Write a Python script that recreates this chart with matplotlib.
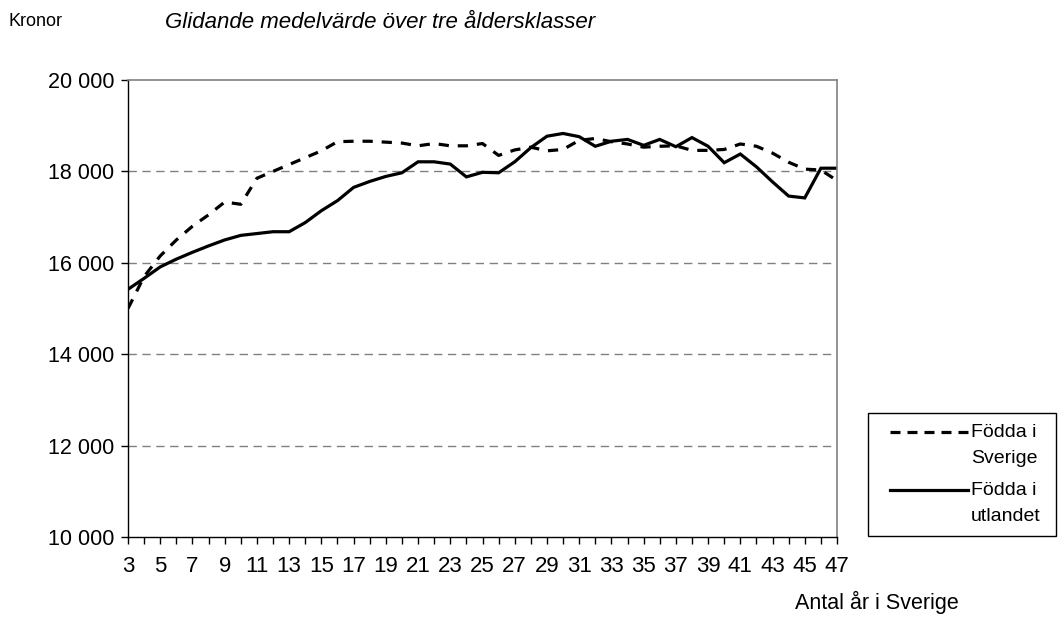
import matplotlib
matplotlib.use("Agg")
import matplotlib.pyplot as plt
from matplotlib.lines import Line2D
from matplotlib.patches import Rectangle
from matplotlib.ticker import FuncFormatter, MultipleLocator

plt.rcParams['font.family'] = ['Liberation Sans', 'DejaVu Sans']

years = list(range(3, 48))
fodda_sverige = [15000, 15700, 16150, 16500, 16800, 17050, 17330, 17280, 17850, 18000,
                 18150, 18300, 18450, 18650, 18660, 18660, 18640, 18620, 18560, 18610,
                 18560, 18560, 18610, 18350, 18470, 18530, 18450, 18480, 18680, 18720,
                 18650, 18600, 18530, 18550, 18560, 18460, 18460, 18480, 18600, 18550,
                 18400, 18200, 18050, 18030, 17800]
fodda_utlandet = [15420, 15660, 15910, 16080, 16230, 16370, 16500, 16600, 16640, 16680,
                  16680, 16880, 17140, 17360, 17650, 17780, 17890, 17970, 18210, 18210,
                  18160, 17880, 17980, 17970, 18210, 18520, 18770, 18830, 18760, 18550,
                  18660, 18700, 18570, 18700, 18540, 18740, 18550, 18190, 18380, 18100,
                  17770, 17460, 17420, 18070, 18070]

ylabel_text = "Kronor"
title_text = "Glidande medelvärde över tre åldersklasser"
xlabel_text = "Antal år i Sverige"
legend_labels = ["Födda i\nSverige", "Födda i\nutlandet"]

W, H = 1060, 644
fig = plt.figure(figsize=(W / 100, H / 100), dpi=100)


def fx(px):
    return px / W


def fy(py):
    return 1 - py / H


ax = fig.add_axes([fx(128), fy(537), fx(837) - fx(128), fy(80) - fy(537)])

dash_style = dict(color='black', lw=2.3, dashes=(3.2, 2.8), dash_capstyle='butt')
solid_style = dict(color='black', lw=2.3, solid_joinstyle='miter')

ax.plot(years, fodda_sverige, **dash_style)
ax.plot(years, fodda_utlandet, **solid_style)

ax.set_xlim(3, 47)
ax.set_ylim(10000, 20000)
ax.yaxis.set_major_locator(MultipleLocator(2000))
ax.yaxis.set_major_formatter(FuncFormatter(lambda v, p: f"{int(v):,}".replace(",", " ")))
ax.set_xticks(years)
ax.set_xticklabels([str(y) if (y - 3) % 2 == 0 else "" for y in years])

for v in range(12000, 20000, 2000):
    ax.axhline(v, color='#808080', lw=1.0, dashes=(6, 4), zorder=0)

for side in ('top', 'right'):
    ax.spines[side].set_color('#808080')
    ax.spines[side].set_linewidth(1.2)
for side in ('left', 'bottom'):
    ax.spines[side].set_color('black')
    ax.spines[side].set_linewidth(1.0)

ax.tick_params(axis='both', direction='out', length=5, width=1.0, color='black')
ax.tick_params(axis='y', labelsize=15.5, pad=5)
ax.tick_params(axis='x', labelsize=16, pad=9)

fig.text(fx(8), fy(22), ylabel_text, fontsize=13, va='center', ha='left')
fig.text(fx(165), fy(22), title_text, fontsize=16, style='italic',
         va='center', ha='left')
fig.text(fx(877), fy(602), xlabel_text, fontsize=15.5, va='center', ha='center')

# Legend box with line samples and two-line labels
fig.add_artist(Rectangle((fx(868), fy(536)), fx(1056) - fx(868), fy(413) - fy(536),
                         transform=fig.transFigure, facecolor='white',
                         edgecolor='black', lw=1.0))
legend_dash = dict(dash_style, dashes=(3.13, 2.19))
for (yline, style, label) in [(432, legend_dash, legend_labels[0]),
                              (490, solid_style, legend_labels[1])]:
    fig.add_artist(Line2D([fx(890), fx(968)], [fy(yline), fy(yline)],
                          transform=fig.transFigure, **style))
    fig.text(fx(971), fy(yline - 8), label, fontsize=14, va='top', ha='left',
             linespacing=1.7)

fig.savefig("out.png", dpi=100)
